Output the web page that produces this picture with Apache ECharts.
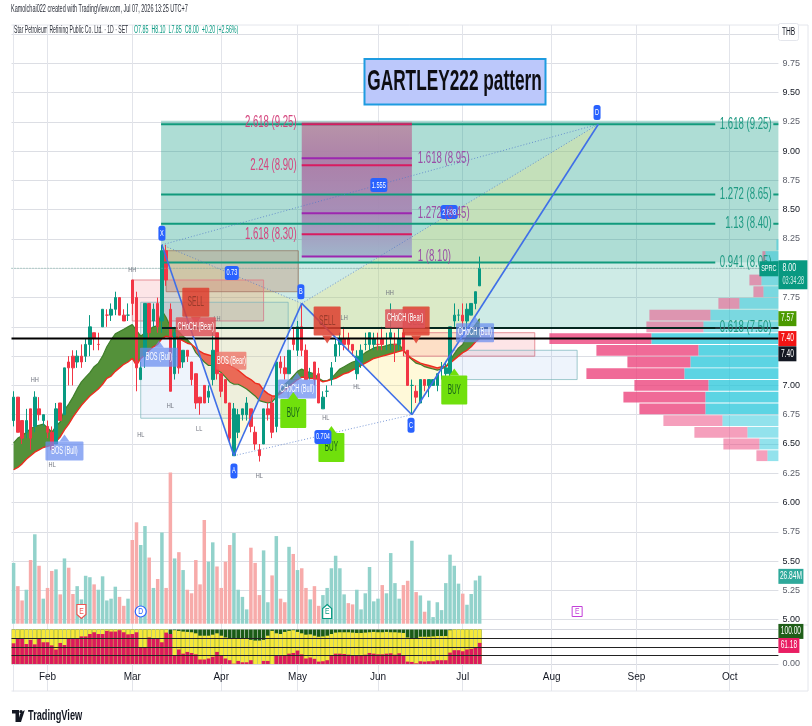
<!DOCTYPE html>
<html><head><meta charset="utf-8">
<style>html,body{margin:0;padding:0;background:#fff;overflow:hidden}#c{width:812px;height:726px;filter:blur(.35px)}</style>
<script src="https://cdn.jsdelivr.net/npm/echarts@6/dist/echarts.min.js"></script>
</head><body><div id="c"></div>
<script>
const opens=[6.70,6.90,6.70,6.60,6.80,6.65,6.80,6.70,6.65,6.60,6.50,6.85,6.75,7.20,7.25,7.20,7.25,7.25,7.35,7.45,7.35,7.50,7.60,7.60,7.65,7.75,7.60,7.60,7.90,7.75,7.05,7.25,7.70,7.55,7.70,7.55,8.15,7.65,7.10,7.40,7.20,7.30,7.20,7.10,6.90,7.00,6.90,7.05,7.45,7.10,7.05,6.85,6.40,6.60,6.75,6.75,6.80,6.60,6.45,6.50,6.80,6.85,6.65,7.20,7.15,7.10,7.40,7.30,7.50,7.30,7.10,7.20,7.10,6.80,6.95,7.05,7.25,7.35,7.40,7.40,7.35,7.10,7.20,7.35,7.35,7.35,7.35,7.40,7.40,7.40,7.35,7.35,7.45,7.30,7.00,6.95,6.85,7.05,7.00,7.00,7.00,7.15,7.10,7.10,7.55,7.60,7.60,7.55,7.60,7.70,7.85];
const closes=[6.90,6.60,6.55,6.70,6.55,6.90,6.75,6.75,6.60,6.45,6.80,6.70,7.15,7.15,7.15,7.25,7.20,7.35,7.50,7.40,7.35,7.65,7.60,7.65,7.75,7.60,7.55,7.60,7.70,7.15,7.15,7.70,7.45,7.65,7.50,8.15,7.90,6.95,7.45,7.15,7.30,7.25,7.05,6.85,6.85,6.85,6.95,7.30,7.10,6.95,6.85,6.55,6.80,6.75,6.80,6.85,6.65,6.50,6.40,6.80,6.75,6.60,7.20,7.15,7.10,7.30,7.35,7.50,7.30,7.05,7.10,7.05,6.85,6.90,6.95,7.15,7.35,7.40,7.35,7.35,7.30,7.25,7.30,7.35,7.45,7.40,7.35,7.35,7.40,7.45,7.35,7.40,7.30,7.00,7.00,6.90,7.05,7.00,7.05,7.05,7.10,7.15,7.15,7.50,7.60,7.60,7.55,7.65,7.70,7.80,8.00];
const lows=[6.65,6.60,6.50,6.55,6.45,6.60,6.70,6.65,6.55,6.45,6.50,6.70,6.75,7.00,7.00,7.15,7.15,7.20,7.25,7.30,7.30,7.50,7.50,7.55,7.60,7.60,7.55,7.55,7.60,6.95,7.05,7.15,7.40,7.50,7.45,7.45,7.85,6.95,7.05,7.10,7.15,7.20,7.00,6.80,6.75,6.85,6.85,7.00,7.05,6.90,6.85,6.50,6.40,6.55,6.70,6.70,6.60,6.45,6.35,6.50,6.70,6.55,6.60,7.10,7.05,7.10,7.30,7.25,7.25,7.05,7.05,7.00,6.85,6.80,6.90,7.00,7.20,7.25,7.30,7.30,7.25,7.05,7.15,7.30,7.30,7.30,7.30,7.30,7.30,7.30,7.20,7.30,7.25,7.00,6.75,6.85,6.85,6.95,6.90,7.00,6.95,7.05,7.05,7.05,7.50,7.55,7.50,7.50,7.60,7.65,7.85];
const highs=[6.95,6.90,6.70,6.80,6.80,6.95,6.90,6.75,6.70,6.65,6.85,6.85,7.15,7.25,7.30,7.30,7.35,7.40,7.60,7.45,7.45,7.65,7.65,7.70,7.80,7.75,7.65,7.70,7.90,7.80,7.20,7.70,7.70,7.70,7.75,8.20,8.20,7.70,7.50,7.45,7.30,7.30,7.20,7.10,6.90,7.00,7.00,7.45,7.45,7.10,7.05,6.85,6.85,6.80,6.80,6.90,6.80,6.65,6.50,6.80,6.85,6.90,7.20,7.25,7.25,7.30,7.50,7.55,7.70,7.35,7.15,7.20,7.15,6.95,7.00,7.20,7.40,7.45,7.50,7.45,7.35,7.30,7.35,7.45,7.45,7.45,7.45,7.50,7.45,7.70,7.45,7.50,7.60,7.30,7.05,7.00,7.05,7.05,7.05,7.05,7.10,7.20,7.20,7.50,7.70,7.65,7.70,7.70,7.70,7.80,8.10];
const fastLine=[6.51,6.55,6.57,6.60,6.63,6.65,6.66,6.67,6.64,6.60,6.65,6.69,6.79,6.84,6.90,6.97,7.03,7.07,7.11,7.16,7.19,7.25,7.33,7.39,7.44,7.46,7.48,7.50,7.52,7.47,7.42,7.45,7.48,7.50,7.51,7.64,7.58,7.50,7.48,7.46,7.42,7.39,7.35,7.28,7.24,7.20,7.17,7.17,7.13,7.11,7.07,7.03,7.01,7.01,6.99,6.97,6.94,6.91,6.87,6.86,6.85,6.86,6.90,6.96,7.01,7.04,7.08,7.12,7.14,7.12,7.11,7.10,7.06,7.04,7.04,7.06,7.10,7.14,7.16,7.18,7.20,7.21,7.25,7.28,7.30,7.32,7.33,7.33,7.34,7.35,7.35,7.35,7.30,7.25,7.22,7.19,7.18,7.16,7.15,7.14,7.13,7.14,7.16,7.21,7.27,7.32,7.35,7.42,7.47,7.52,7.57];
const slowLine=[6.28,6.30,6.33,6.37,6.40,6.43,6.45,6.47,6.48,6.49,6.52,6.56,6.62,6.67,6.73,6.78,6.83,6.87,6.91,6.94,6.97,7.01,7.06,7.08,7.12,7.15,7.18,7.20,7.23,7.17,7.23,7.26,7.30,7.33,7.35,7.40,7.42,7.41,7.42,7.40,7.38,7.36,7.35,7.32,7.29,7.27,7.26,7.25,7.23,7.21,7.19,7.17,7.15,7.13,7.10,7.07,7.05,7.02,7.01,6.96,6.93,6.91,6.91,6.93,6.96,6.99,7.02,7.05,7.07,7.07,7.06,7.06,7.05,7.03,7.04,7.05,7.06,7.08,7.10,7.11,7.13,7.15,7.17,7.19,7.21,7.23,7.24,7.25,7.26,7.27,7.28,7.29,7.30,7.26,7.23,7.21,7.19,7.18,7.17,7.16,7.15,7.16,7.16,7.19,7.22,7.25,7.28,7.30,7.33,7.37,7.40];
const volumes=[34,21,13,19,35.6,50,32.4,14,20,29.5,30.4,16.4,36.5,31.3,16.6,21,13.6,26.8,26,22,19,26.5,13,14,20.7,15,10,14,46.8,56.7,44,54.6,37,20,25,51,20,84.6,36.5,40,30,19,17,35.6,22,58,34.7,45.5,32,20,34.7,44,50.7,19,15,8,42.5,34,16,41,12,27,49,14,12,43,39,30,31,20,13.6,21,10,16,20,31,38,31,16.4,11.5,10.8,19,8,17,31.7,12.5,14,21.6,17,39.5,22.7,14,21.6,24,46.4,17.7,15.8,6.7,12.9,3.7,12,7.6,22.7,38.6,32.4,22.4,16.8,10.6,16.6,24.2,26.84];
const volumeUp=[1,0,0,1,0,1,0,1,0,0,1,0,1,0,0,1,1,1,1,0,1,1,1,1,1,0,0,1,0,0,1,1,0,1,0,1,0,0,1,0,1,0,0,0,0,0,1,1,0,0,0,0,1,1,1,1,0,0,0,1,1,0,1,0,0,1,0,1,0,0,1,0,0,1,1,1,1,1,1,0,0,1,1,1,1,1,1,0,1,1,1,1,0,0,1,0,1,0,1,1,1,1,1,1,1,1,0,1,1,1,1];
const oscRed=[60,73,73,58,70,57,73,63,63,54,42,61,55,75,75,75,80,80,87,92,87,87,96,94,94,98,92,86,87,92,49,49,77,73,73,63,91,87,25,42,30,35,32,28,13,13,16,21,35,25,16,11,1,9,5,5,11,0,0,9,9,0,24,23,25,30,32,39,28,16,19,15,7,8,11,23,30,30,29,27,24,24,24,27,32,30,28,28,30,31,27,31,25,7,6,2,8,7,8,8,11,11,11,33,40,40,37,42,44,49,61.18];
const oscMid=[100,100,100,100,100,100,100,100,100,100,100,100,100,100,100,100,100,100,100,100,100,100,100,100,100,100,100,100,100,100,100,100,100,100,100,100,100,87,98,96,94,93,92,89,82,82,82,85,89,82,77,75,75,75,75,75,70,68,68,70,82,96,89,87,93,96,98,93,89,85,86,82,79,80,82,87,91,92,92,92,91,90,90,91,92,93,92,92,93,92,92,91,90,77,75,75,79,79,79,80,81,81,81,98,100,100,100,100,100,100,100];

const monthTickIndex=[8,28,49,67,86,106,127,147,169];
const monthLabels=["Feb","Mar","Apr","May","Jun","Jul","Aug","Sep","Oct"];
const barSlots=181;
const priceTicksHidden=[10,8,7.5,7.25];

const profilePrices=[8.2,8.1,8.0,7.9,7.8,7.7,7.6,7.5,7.4,7.3,7.2,7.1,7.0,6.9,6.8,6.7,6.6,6.5,6.4];
const profileBuy=[2,13,16,17,15,39,68,75,127,80,88,94,70,73,73,56,31,19,11];
const profileSell=[0,3,3,12,10,21,61,57,102,102,63,98,74,82,66,59,53,36,11];

const patternPoints=[[35,8.20],[52,6.40],[68,7.70],[94,6.75],[138,9.23]];
const patternNames=["X","A","B","C","D"];
const patternLabelAt=[[35,8.30],[52,6.27],[67.8,7.80],[93.8,6.66],[137.7,9.33]];
const ratioLabels=[[51.5,7.96,"0.73"],[73,6.56,"0.704"],[86.2,8.71,"1.555"],[102.8,8.48,"2.608"]];

const fibGreenPrices=[9.23,8.63,8.38,8.05,7.49];
const fibGreenTexts=["1.618 (9.25)","1.272 (8.65)","1.13 (8.40)","0.941 (8.05)","0.618 (7.50)"];
const fibRedPrices=[9.23,8.88,8.29];
const fibRedTexts=["2.618 (9.25)","2.24 (8.90)","1.618 (8.30)"];
const fibPurplePrices=[8.94,8.47,8.10];
const fibPurpleTexts=["1.618 (8.95)","1.272 (8.45)","1 (8.10)"];

const zoneBoxes=[[36,67.2,8.15,7.80,"brown"],[28,59,7.90,7.55,"pink"],[30,64.8,7.71,6.72,"blue"],[92,123,7.45,7.25,"pink"],[103,133,7.30,7.05,"blue"]];
const signalTags=[[12,6.44,"BOS (Bull)","bull"],[34.3,7.24,"BOS (Bull)","bull"],[51.4,7.21,"BOS (Bear)","bos"],[43,7.71,"SELL","sell"],[43,7.50,"CHoCH (Bear)","bear"],[74,7.55,"SELL","sell"],[95,7.55,"SELL","sell"],[92.4,7.57,"CHoCH (Bear)","bear"],[66.9,6.97,"CHoCH (Bull)","bull"],[108.9,7.45,"CHoCH (Bull)","bull"],[66,6.76,"BUY","buy"],[75,6.47,"BUY","buy"],[104,6.96,"BUY","buy"]];
const swingTexts=[[5,7.05,"HH"],[28,7.99,"HH"],[9.1,6.32,"HL"],[30,6.58,"HL"],[37,6.83,"HL"],[43.8,6.63,"LL"],[58,6.23,"HL"],[73.7,6.72,"HL"],[81,6.99,"HL"],[88.8,7.79,"HH"],[78,7.58,"LH"],[48,7.57,"LH"]];
const eventMarks=[[16,5.07,"E","earnRed"],[30,5.07,"D","div"],[74,5.07,"E","earnTeal"],[133,5.07,"E","earnPurple"]];
const scaleBadges=[[7.57,"7.57","green"],[7.40,"7.40","red"],[7.27,"7.40","black"],[5.37,"26.84M","vol"],[4.90,"100.00","dark"],[4.78,"61.18","pink"]];

const F='"Liberation Sans",Arial,sans-serif', NF='"Liberation Sans Narrow","Liberation Sans",sans-serif';
const GL={left:11.5,width:766.9};
const UP='#089981',DN='#f23645';
const tagKinds={
 sell:{w:27,h:29,fill:'rgba(222,60,44,.84)',color:'#9c3b2c',size:14,scale:.48,ptr:'down'},
 buy:{w:26,h:29,fill:'#70e00c',color:'#145f1a',size:14,scale:.46,ptr:'up'},
 bear:{w:40,h:19,fill:'rgba(222,84,92,.85)',color:'#fff',size:10,scale:.56},
 bos:{w:30,h:18,fill:'rgba(238,108,98,.75)',color:'#fff',size:10,scale:.56},
 bull:{w:38,h:19,fill:'rgba(104,140,240,.72)',color:'#fff',size:10,scale:.56,ptr:'up'}
};
const boxKinds={
 brown:{fill:'rgba(190,140,110,.38)',stroke:'rgba(150,120,100,.75)'},
 pink:{fill:'rgba(242,54,69,.13)',stroke:'rgba(224,120,130,.8)'},
 blue:{fill:'rgba(33,120,220,.08)',stroke:'rgba(120,180,185,.7)'}
};
const badgeKinds={green:'#4b9a00',red:'#f21414',black:'#131722',vol:'#2fa99b',dark:'#1f5e18',pink:'#e91e63'};

function label(x,y,text,size,color,align,scale,weight){
  return {type:'text',x:x,y:y,scaleX:scale,style:{text:text,x:0,y:0,fontSize:size,fontFamily:F,fontWeight:weight||'normal',fill:color,align:align||'center',verticalAlign:'middle'}};
}
function rect(x0,y0,x1,y1,fill,stroke,r,lw){
  return {type:'rect',shape:{x:x0,y:y0,width:x1-x0,height:y1-y0,r:r||0},style:{fill:fill,stroke:stroke||null,lineWidth:lw||1}};
}
function seg(p,q,color,w,dash){
  return {type:'line',shape:{x1:p[0],y1:p[1],x2:q[0],y2:q[1]},style:{stroke:color,lineWidth:w,lineDash:dash||null}};
}
function layer(z,fn){
  return {type:'custom',xAxisIndex:1,yAxisIndex:0,z:z,silent:true,clip:false,data:[[0,8]],renderItem:(p,api)=>({type:'group',children:fn(a=>api.coord(a))})};
}

const fills=layer(2,c=>{
  const [X,A,B,C,D]=patternPoints.map(c), out=[];
  const end=barSlots-.5;
  let a=c([34.8,9.26]),b=c([end,fibGreenPrices[3]]);
  out.push(rect(a[0],a[1],b[0],b[1],'rgba(8,153,129,.33)'));
  let e=c([end,fibGreenPrices[4]]);
  out.push(rect(a[0],b[1],b[0],e[1],'rgba(8,153,129,.2)'));
  out.push({type:'polygon',shape:{points:[X,A,B]},style:{fill:'rgba(255,235,120,.25)'}});
  out.push({type:'polygon',shape:{points:[B,C,D]},style:{fill:'rgba(255,235,120,.28)'}});
  zoneBoxes.forEach(z=>{const p=c([z[0],z[2]]),q=c([z[1],z[3]]);const k=boxKinds[z[4]];out.push(rect(p[0],p[1],q[0],q[1],k.fill,k.stroke));});
  const pt=c([68,9.25]),pb=c([94,fibPurplePrices[2]]);
  out.push({type:'rect',shape:{x:pt[0],y:pt[1],width:pb[0]-pt[0],height:pb[1]-pt[1]},style:{opacity:.93,fill:new echarts.graphic.LinearGradient(0,0,0,1,[{offset:0,color:'#b98fa5'},{offset:.3,color:'#ac7aa6'},{offset:.7,color:'#a68ab6'},{offset:1,color:'#9fb2ca'}])}});
  return out;
});
const ribbon=layer(2.5,c=>{
  const out=[], n=fastLine.length;
  let s=0;
  while(s<n-1){
    const up=fastLine[s]+fastLine[s+1]>=slowLine[s]+slowLine[s+1];
    let e=s+1;
    while(e<n-1&&(fastLine[e]+fastLine[e+1]>=slowLine[e]+slowLine[e+1])===up)e++;
    const pts=[];
    for(let i=s;i<=e;i++)pts.push(c([i,fastLine[i]]));
    for(let i=e;i>=s;i--)pts.push(c([i,slowLine[i]]));
    out.push({type:'polygon',shape:{points:pts},style:{fill:up?'#54913a':'#ea6a56'}});
    s=e;
  }
  return out;
});
const lines=layer(5,c=>{
  const out=[], end=barSlots-.5;
  const price=(p,x0,x1,col,w,dash)=>out.push(seg(c([x0,p]),c([x1,p]),col,w,dash));
  price(8,-.5,end,'#7fb5a8',1,[1,2]);
  fibGreenPrices.forEach(p=>{price(p,34.8,165.6,'#119a7c',2);price(p,179.3,end,'#119a7c',2);});
  price(7.40,-.5,end,'#000',2);
  price(7.49,35,end,'#000',1.5);
  fibRedPrices.forEach(p=>price(p,68,94,'#d81b60',2));
  fibPurplePrices.forEach(p=>price(p,68,94,'#9c27b0',2));
  const pts=patternPoints.map(c);
  const dot='rgba(80,120,200,.75)';
  out.push(seg(pts[0],pts[2],dot,1,[1,2]),seg(pts[1],pts[3],dot,1,[1,2]),seg(pts[0],pts[4],dot,1,[1,2]),seg(pts[2],pts[4],dot,1,[1,2]));
  for(let i=0;i<4;i++)out.push(seg(pts[i],pts[i+1],'#3f6fe8',1.6));
  return out;
});
const tags=layer(6,c=>{
  const out=[];
  swingTexts.forEach(s=>{const p=c([s[0],s[1]]);out.push(label(p[0],p[1],s[2],8,'#70747f','center',.7));});
  signalTags.forEach(s=>{
    const k=tagKinds[s[3]],p=c([s[0],s[1]]);
    const x0=p[0]-k.w/2,x1=p[0]+k.w/2,y0=p[1]-k.h/2,y1=p[1]+k.h/2;
    if(k.ptr==='down')out.push({type:'polygon',shape:{points:[[p[0]-5,y1],[p[0]+5,y1],[p[0],y1+8]]},style:{fill:k.fill}});
    if(k.ptr==='up')out.push({type:'polygon',shape:{points:[[p[0]-5,y0],[p[0]+5,y0],[p[0],y0-7]]},style:{fill:k.fill}});
    out.push(rect(x0,y0,x1,y1,k.fill,null,1));
    out.push(label(p[0],p[1],s[2],k.size,k.color,'center',k.scale));
  });
  const chip=(x,y,t,w,h)=>{out.push(rect(x-w/2,y-h/2,x+w/2,y+h/2,'#2962ff',null,2.5));out.push(label(x,y,t,9,'#fff','center',.62));};
  patternLabelAt.forEach((a,i)=>{const p=c(a);chip(p[0],p[1],patternNames[i],7,15);});
  ratioLabels.forEach(r=>{const p=c([r[0],r[1]]);chip(p[0],p[1],r[2],r[2].length>4?17:14,14);});
  fibGreenPrices.forEach((p,i)=>{const q=c([178.9,p]);out.push(label(q[0],q[1],fibGreenTexts[i],16,'#1f9a83','right',.6));});
  fibRedPrices.forEach((p,i)=>{const q=c([66.8,p+(i?0:.01)]);out.push(label(q[0],q[1],fibRedTexts[i],16,'#d5457e','right',.6));});
  fibPurplePrices.forEach((p,i)=>{const q=c([95.4,p]);out.push(label(q[0],q[1],fibPurpleTexts[i],16,'#9a4fa6','left',.6));});
  eventMarks.forEach(m=>{
    const p=c([m[0],m[1]]);
    const col={earnRed:'#ef5350',div:'#2962ff',earnTeal:'#089981',earnPurple:'#c23fd8'}[m[3]];
    if(m[3]==='div')out.push({type:'circle',shape:{cx:p[0],cy:p[1],r:5.5},style:{fill:'#fff',stroke:col,lineWidth:1.2}});
    else if(m[3]==='earnPurple')out.push(rect(p[0]-5,p[1]-5,p[0]+5,p[1]+5,'#fff',col,0,1));
    else out.push({type:'polygon',shape:{points:m[3]==='earnRed'?[[p[0]-4.5,p[1]-7],[p[0]+4.5,p[1]-7],[p[0]+4.5,p[1]+3],[p[0],p[1]+7],[p[0]-4.5,p[1]+3]]:[[p[0],p[1]-7],[p[0]+4.5,p[1]-3],[p[0]+4.5,p[1]+7],[p[0]-4.5,p[1]+7],[p[0]-4.5,p[1]-3]]},style:{fill:'#fff',stroke:col,lineWidth:1.2}});
    out.push(label(p[0],p[1],m[2],9,col,'center',.75));
  });
  const rx=c([barSlots-.5,8])[0];
  const last=c([barSlots-.5,closes[closes.length-1]]);
  out.push(rect(rx-19,last[1]-7,rx,last[1]+8,UP));
  out.push(label(rx-9.5,last[1],"SPRC",9,'#fff','center',.62));
  out.push(rect(rx,last[1]-8,rx+29,last[1]+21,UP));
  out.push(label(rx+4,last[1],closes[closes.length-1].toFixed(2),10,'#fff','left',.7));
  out.push(label(rx+4,last[1]+13,"03:34:28",10,'#cfeee8','left',.56));
  scaleBadges.forEach(b=>{
    const p=c([barSlots-.5,b[0]]);const n=b[1].length,w=n===4?18:n===5?21:25;
    out.push(rect(rx,p[1]-7.5,rx+w,p[1]+7.5,badgeKinds[b[2]]));
    out.push(label(rx+w/2,p[1],b[1],10,'#fff','center',.66));
  });
  return out;
});
const profile={type:'custom',xAxisIndex:4,yAxisIndex:3,z:4,silent:true,data:[[0,8]],
  renderItem:(p,api)=>{
    const kids=[];
    profilePrices.forEach((pr,i)=>{
      const strong=pr<=7.4&&pr>=6.8;
      const top=api.coord([0,pr+.046])[1],bot=api.coord([0,pr-.046])[1];
      const x0=api.coord([0,pr])[0],x1=api.coord([profileBuy[i],pr])[0],x2=api.coord([profileBuy[i]+profileSell[i],pr])[0];
      kids.push(rect(x1,top,x0,bot,strong?'rgba(38,198,218,.75)':'rgba(38,198,218,.5)'));
      kids.push(rect(x2,top,x1,bot,strong?'rgba(236,64,122,.78)':'rgba(236,64,122,.5)'));
    });
    return {type:'group',children:kids};
  }};

const catData=Array.from({length:barSlots},(_,i)=>String(i));
const candle=opens.map((o,i)=>[o,closes[i],lows[i],highs[i]]);
const hidden={show:false};
const frameColor='#e4e6ec';
const option={
  animation:false,
  backgroundColor:'#fff',
  grid:[
    {left:GL.left,width:GL.width,top:34,height:585.7},
    {left:GL.left,width:GL.width,top:471.7,height:152},
    {left:GL.left,width:GL.width,top:629.5,height:34.5},
    {left:GL.left,width:GL.width,top:34,height:585.7},
    {left:GL.left,width:GL.width,top:25,height:666}
  ],
  xAxis:[
    {type:'category',gridIndex:0,data:catData,show:false},
    {type:'value',gridIndex:0,min:-.5,max:barSlots-.5,show:false},
    {type:'category',gridIndex:1,data:catData,show:false},
    {type:'category',gridIndex:2,data:catData,show:false},
    {type:'value',gridIndex:3,min:0,max:GL.width,inverse:true,show:false},
    {type:'value',gridIndex:4,min:-.5,max:barSlots-.5,position:'bottom',
      axisLine:{show:false},
      axisTick:{show:false,customValues:monthTickIndex},
      splitLine:{show:true,lineStyle:{color:'#e2e4ea',width:1}},
      axisLabel:{customValues:monthTickIndex,margin:-19,fontSize:10,fontFamily:NF,color:'#131722',
        formatter:v=>monthLabels[monthTickIndex.indexOf(v)]||''}}
  ],
  yAxis:[
    {type:'value',gridIndex:0,position:'right',min:5,max:10,interval:.25,
      axisLine:{show:false},axisTick:{show:false},
      splitLine:{show:true,lineStyle:{color:'#dcdee4',width:1}},
      axisLabel:{margin:4,fontSize:9,fontFamily:NF,
        color:v=>(Math.round(v*100)%50===0?'#131722':'#5d606b'),
        formatter:v=>priceTicksHidden.includes(v)?'':v.toFixed(2)}},
    {type:'value',gridIndex:1,min:0,max:85,show:false,splitLine:hidden},
    {type:'value',gridIndex:2,min:0,max:100,position:'right',interval:100,axisLine:{show:false},axisTick:{show:false},
      splitLine:{show:true,lineStyle:{color:'#d5d7de'}},
      axisLabel:{margin:4,fontSize:9,fontFamily:NF,color:'#5d606b',formatter:v=>v===0?'0.00':''}},
    {type:'value',gridIndex:3,min:5,max:10,show:false,splitLine:hidden},
    {type:'value',gridIndex:4,min:0,max:1,position:'left',axisLine:{show:true,lineStyle:{color:frameColor}},axisTick:{show:false},axisLabel:{show:false},splitLine:hidden}
  ],
  series:[
    fills,ribbon,
    {type:'line',xAxisIndex:0,yAxisIndex:0,z:2.6,data:fastLine,showSymbol:false,silent:true,lineStyle:{color:'#3f7f2a',width:1.2}},
    {type:'line',xAxisIndex:0,yAxisIndex:0,z:2.7,data:slowLine,showSymbol:false,silent:true,lineStyle:{color:'#ee2c1e',width:1.4}},
    {type:'candlestick',xAxisIndex:0,yAxisIndex:0,z:3,data:candle,barWidth:3,silent:true,
      itemStyle:{color:UP,color0:DN,borderColor:UP,borderColor0:DN,borderWidth:1}},
    profile,lines,tags,
    {type:'bar',xAxisIndex:2,yAxisIndex:1,z:2.9,silent:true,barWidth:3.5,
      data:volumes.map((v,i)=>({value:v,itemStyle:{color:volumeUp[i]?'#92d2cb':'#f7abaa'}}))},
    {type:'bar',xAxisIndex:3,yAxisIndex:2,z:3,silent:true,barWidth:3.7,barGap:'-100%',data:oscMid.map(()=>100),itemStyle:{color:'#1a5b16'}},
    {type:'bar',xAxisIndex:3,yAxisIndex:2,z:3,silent:true,barWidth:3.7,barGap:'-100%',data:oscMid,itemStyle:{color:'#f6e83a'}},
    {type:'bar',xAxisIndex:3,yAxisIndex:2,z:3,silent:true,barWidth:3.7,barGap:'-100%',data:oscRed,itemStyle:{color:'#dc1a5c'},
      markLine:{silent:true,symbol:'none',label:hidden,lineStyle:{color:'#222',width:1,type:'solid'},data:[{yAxis:25},{yAxis:50},{yAxis:75}]}}
  ],
  graphic:[
    {type:'line',shape:{x1:11.5,y1:25,x2:808,y2:25},style:{stroke:frameColor,lineWidth:1}},
    {type:'line',shape:{x1:808,y1:25,x2:808,y2:691},style:{stroke:frameColor,lineWidth:1}},
    {type:'line',shape:{x1:11.5,y1:691,x2:808,y2:691},style:{stroke:frameColor,lineWidth:1}},
    {type:'line',shape:{x1:778,y1:625,x2:808,y2:625},style:{stroke:frameColor,lineWidth:1}},
    {type:'text',x:11,y:9,scaleX:.55,style:{text:'Kamolchai022 created with TradingView.com, Jul 07, 2026 13:25 UTC+7',fontSize:10,fontFamily:F,fill:'#2a2e39',verticalAlign:'middle'}},
    {type:'text',x:14,y:30,scaleX:.51,style:{text:'Star Petroleum Refining Public Co. Ltd. · 1D · SET',fontSize:10,fontFamily:F,fill:'#2a2e39',verticalAlign:'middle'}},
    {type:'text',x:134,y:30,scaleX:.53,style:{text:'O7.85  H8.10  L7.85  C8.00  +0.20 (+2.56%)',fontSize:10,fontFamily:F,fill:UP,verticalAlign:'middle'}},
    {type:'rect',shape:{x:778.5,y:23.5,width:20,height:17,r:2},style:{fill:'#fff',stroke:frameColor,lineWidth:1}},
    {type:'text',x:788.5,y:32,scaleX:.66,style:{text:'THB',fontSize:10,fontFamily:F,fill:'#131722',align:'center',verticalAlign:'middle'}},
    {type:'rect',z:7,shape:{x:364.5,y:59,width:181,height:45.5},style:{fill:'#bcc8fb',stroke:'#1e9be0',lineWidth:2}},
    {type:'text',z:8,x:454.5,y:82,scaleX:.575,style:{text:'GARTLEY222 pattern',fontSize:30,fontWeight:'bold',fontFamily:F,fill:'#0d0d12',align:'center',verticalAlign:'middle'}},
    {type:'polygon',shape:{points:[[12,710],[19,710],[19,722],[15.5,722],[15.5,713.5],[12,713.5]]},style:{fill:'#131722'}},
    {type:'circle',shape:{cx:21,cy:711.7,r:1.7},style:{fill:'#131722'}},
    {type:'polygon',shape:{points:[[20,714],[24.5,710],[24.5,711],[21,722],[17.8,722]]},style:{fill:'#131722'}},
    {type:'text',x:28,y:716,scaleX:.66,style:{text:'TradingView',fontSize:14,fontWeight:'bold',fontFamily:F,fill:'#131722',verticalAlign:'middle'}}
  ]
};
echarts.init(document.getElementById('c'),null,{renderer:'canvas'}).setOption(option);
</script></body></html>
